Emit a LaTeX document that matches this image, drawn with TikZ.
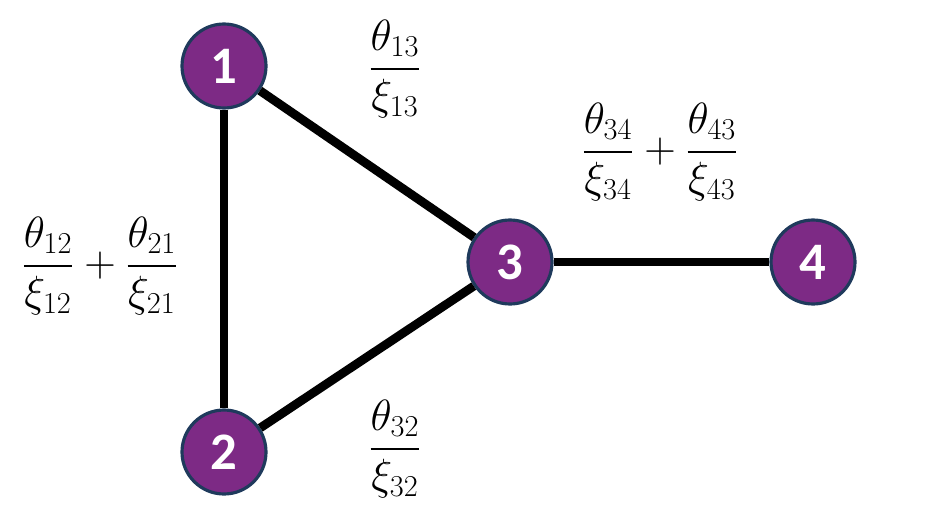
\documentclass[tikz,border=0pt]{standalone}
\usepackage{amsmath}
\usepackage{fontspec}
\newfontfamily\carlito{Carlito}
\usepackage{tikz}
\usetikzlibrary{positioning}
\definecolor{NodePurple}{HTML}{7D2A85}
\definecolor{NodeRim}{HTML}{1F3A5C}

\begin{document}
\begin{tikzpicture}[
  % graph vertex
  vtx/.style={circle, fill=NodePurple, draw=NodeRim, line width=1.8pt,
              minimum size=1.68cm, inner sep=0pt, text=white,
              font=\carlito\bfseries\fontsize{30}{30}\selectfont},
  % edge between vertices
  edge/.style={black, line width=5pt},
  % weight label
  wlbl/.style={font=\fontsize{27}{32}\selectfont, inner sep=0pt},
]
\useasboundingbox (0,0) rectangle (18.6,10.18);

% ── Vertex positions ────────────────────────────────────────────────────────
\def\xL{4.48}   % left column x
\def\yT{8.86}   % top vertex y
\def\yB{1.14}   % bottom vertex y
\def\yM{4.94}   % middle row y

%% ── Vertices ──────────────────────────────────────────────────────────────
\node[vtx] (v1) at (\xL, \yT) {1};
\node[vtx] (v2) at (\xL, \yB) {2};
\node[vtx] (v3) at (10.2, \yM) {3};
\node[vtx] (v4) at (16.26, \yM) {4};

%% ── Edges ─────────────────────────────────────────────────────────────────
\draw[edge] (v1) -- (v2);
\draw[edge] (v1) -- (v3);
\draw[edge] (v2) -- (v3);
\draw[edge] (v3) -- (v4);

%% ── Edge weights ──────────────────────────────────────────────────────────
\node[wlbl] (w13) at (7.9, 8.8)
  {$\dfrac{\theta_{13}}{\xi_{13}}$};
\node[wlbl] (w12) at (2.0, 4.86)
  {$\dfrac{\theta_{12}}{\xi_{12}}+\dfrac{\theta_{21}}{\xi_{21}}$};
\node[wlbl] (w34) at (13.2, 7.14)
  {$\dfrac{\theta_{34}}{\xi_{34}}+\dfrac{\theta_{43}}{\xi_{43}}$};
\node[wlbl] (w32) at (7.9, 1.2)
  {$\dfrac{\theta_{32}}{\xi_{32}}$};

\end{tikzpicture}
\end{document}
